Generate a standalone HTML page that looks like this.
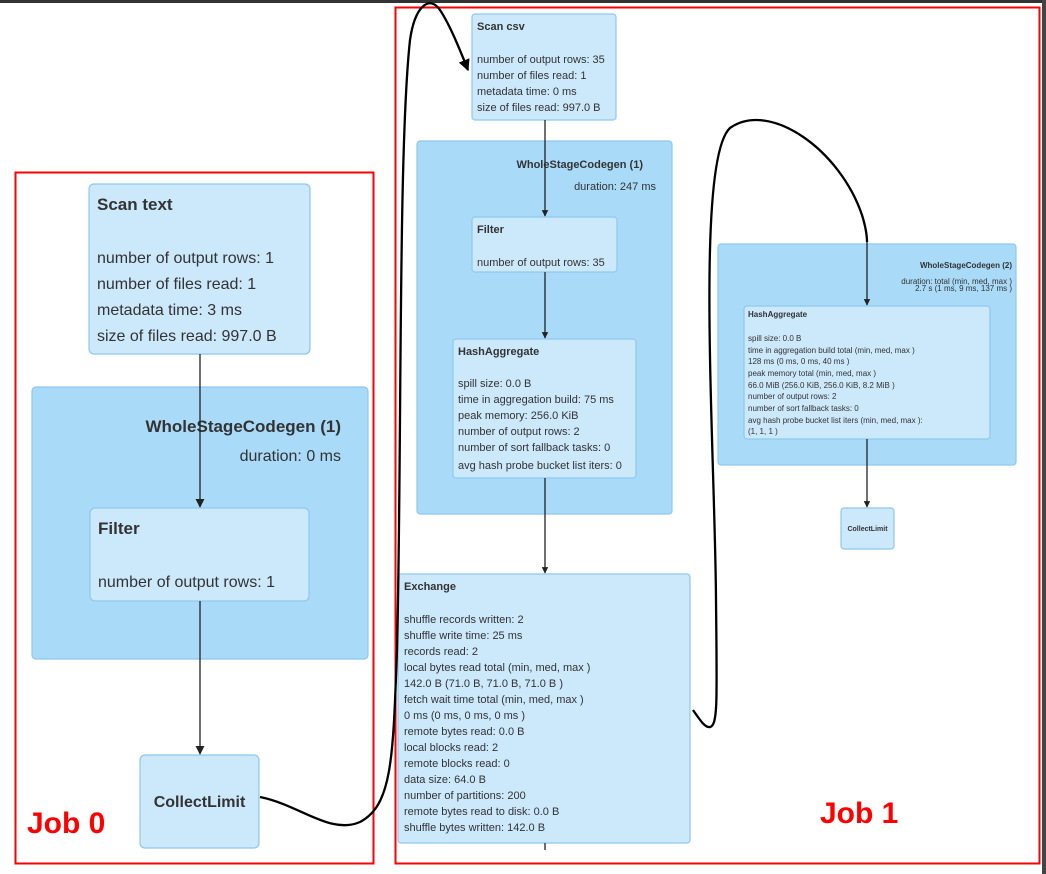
<!DOCTYPE html>
<html><head><meta charset="utf-8"><style>
html,body{margin:0;padding:0;background:#fff;}
svg{display:block;font-family:"Liberation Sans",Arial,sans-serif;}
.n{fill:#cce8fb;stroke:#8ec8ee;stroke-width:1.2;}
.w{fill:#a9dbf9;stroke:#8ec8ee;stroke-width:1.2;}
.t{fill:#333;}
.b{font-weight:bold;}
.e{stroke:#222;stroke-width:1.3;fill:none;}
</style></head><body>
<svg width="1046" height="874" viewBox="0 0 1046 874">
<defs>
<marker id="a" viewBox="0 0 10 10" refX="9" refY="5" markerWidth="7" markerHeight="7" orient="auto"><path d="M0,0L10,5L0,10z" fill="#222"/></marker>
<marker id="as" viewBox="0 0 10 10" refX="9" refY="5" markerWidth="5" markerHeight="5" orient="auto"><path d="M0,0L10,5L0,10z" fill="#222"/></marker>
<marker id="ab" viewBox="0 0 10 10" refX="9" refY="5" markerWidth="5" markerHeight="5" orient="auto"><path d="M0,0L10,5L0,10z" fill="#000"/></marker>
</defs>
<rect x="0" y="0" width="1046" height="3" fill="#333"/>
<rect x="1042" y="0" width="4" height="874" fill="#444"/>

<!-- Job 0 -->
<rect x="15.5" y="172.5" width="358" height="691" fill="none" stroke="#f00" stroke-width="2"/>
<rect class="w" x="32" y="387" width="336" height="272" rx="4"/>
<text class="t b" x="341" y="432" font-size="17" text-anchor="end">WholeStageCodegen (1)</text>
<text class="t" x="341" y="461" font-size="16" text-anchor="end">duration: 0 ms</text>
<rect class="n" x="89" y="184" width="221" height="170" rx="5"/>
<g class="t" font-size="16">
<text class="b" x="97" y="210" font-size="17">Scan text</text>
<text x="97" y="263">number of output rows: 1</text>
<text x="97" y="289">number of files read: 1</text>
<text x="97" y="315">metadata time: 3 ms</text>
<text x="97" y="341">size of files read: 997.0 B</text>
</g>
<rect class="n" x="90" y="508" width="219" height="93" rx="5"/>
<text class="t b" x="98" y="534" font-size="17">Filter</text>
<text class="t" x="98" y="587" font-size="16">number of output rows: 1</text>
<rect class="n" x="140" y="755" width="119" height="93" rx="5"/>
<text class="t b" x="199.5" y="807" font-size="16" text-anchor="middle">CollectLimit</text>
<line class="e" x1="200" y1="354" x2="200" y2="507" stroke-width="2" marker-end="url(#a)"/>
<line class="e" x1="200" y1="601" x2="200" y2="754" stroke-width="2" marker-end="url(#a)"/>
<text x="27" y="833" font-size="30" font-weight="bold" fill="#f00">Job 0</text>

<!-- Job 1 -->
<rect x="395.5" y="7.5" width="644" height="856" fill="none" stroke="#f00" stroke-width="2"/>
<rect class="n" x="472" y="14" width="144" height="106" rx="3"/>
<g class="t" font-size="11">
<text class="b" x="477" y="30">Scan csv</text>
<text x="477" y="63">number of output rows: 35</text>
<text x="477" y="79">number of files read: 1</text>
<text x="477" y="95">metadata time: 0 ms</text>
<text x="477" y="111">size of files read: 997.0 B</text>
</g>
<rect class="w" x="417" y="141" width="255" height="373" rx="3"/>
<text class="t b" x="643" y="168" font-size="11" text-anchor="end">WholeStageCodegen (1)</text>
<text class="t" x="656" y="190" font-size="11" text-anchor="end">duration: 247 ms</text>
<rect class="n" x="472" y="217" width="145" height="55" rx="3"/>
<text class="t b" x="477" y="233" font-size="11">Filter</text>
<text class="t" x="477" y="266" font-size="11">number of output rows: 35</text>
<rect class="n" x="453" y="339" width="183" height="139" rx="3"/>
<g class="t" font-size="11">
<text class="b" x="458" y="355">HashAggregate</text>
<text x="458" y="387">spill size: 0.0 B</text>
<text x="458" y="403">time in aggregation build: 75 ms</text>
<text x="458" y="419">peak memory: 256.0 KiB</text>
<text x="458" y="435">number of output rows: 2</text>
<text x="458" y="451">number of sort fallback tasks: 0</text>
<text x="458" y="469">avg hash probe bucket list iters: 0</text>
</g>
<rect class="n" x="398" y="574" width="292" height="269" rx="3"/>
<g class="t" font-size="11">
<text class="b" x="404" y="590">Exchange</text>
<text x="404" y="623">shuffle records written: 2</text>
<text x="404" y="639">shuffle write time: 25 ms</text>
<text x="404" y="655">records read: 2</text>
<text x="404" y="671">local bytes read total (min, med, max )</text>
<text x="404" y="687">142.0 B (71.0 B, 71.0 B, 71.0 B )</text>
<text x="404" y="703">fetch wait time total (min, med, max )</text>
<text x="404" y="719">0 ms (0 ms, 0 ms, 0 ms )</text>
<text x="404" y="735">remote bytes read: 0.0 B</text>
<text x="404" y="751">local blocks read: 2</text>
<text x="404" y="767">remote blocks read: 0</text>
<text x="404" y="783">data size: 64.0 B</text>
<text x="404" y="799">number of partitions: 200</text>
<text x="404" y="815">remote bytes read to disk: 0.0 B</text>
<text x="404" y="831">shuffle bytes written: 142.0 B</text>
</g>
<line class="e" x1="545" y1="120" x2="545" y2="216" marker-end="url(#as)"/>
<line class="e" x1="545" y1="272" x2="545" y2="338" marker-end="url(#as)"/>
<line class="e" x1="545" y1="478" x2="545" y2="573" marker-end="url(#as)"/>
<line class="e" x1="545" y1="843" x2="545" y2="850"/>

<rect class="w" x="718" y="244" width="298" height="221" rx="3"/>
<text class="t b" x="1012" y="268" font-size="8" text-anchor="end">WholeStageCodegen (2)</text>
<text class="t" x="1012" y="284" font-size="8" text-anchor="end">duration: total (min, med, max )</text>
<text class="t" x="1012" y="291" font-size="8" text-anchor="end">2.7 s (1 ms, 9 ms, 137 ms )</text>
<rect class="n" x="744" y="306" width="246" height="133" rx="3"/>
<g class="t" font-size="8">
<text class="b" x="748" y="317">HashAggregate</text>
<text x="748" y="341">spill size: 0.0 B</text>
<text x="748" y="353">time in aggregation build total (min, med, max )</text>
<text x="748" y="364">128 ms (0 ms, 0 ms, 40 ms )</text>
<text x="748" y="376">peak memory total (min, med, max )</text>
<text x="748" y="388">66.0 MiB (256.0 KiB, 256.0 KiB, 8.2 MiB )</text>
<text x="748" y="399">number of output rows: 2</text>
<text x="748" y="411">number of sort fallback tasks: 0</text>
<text x="748" y="423">avg hash probe bucket list iters (min, med, max ):</text>
<text x="748" y="434">(1, 1, 1 )</text>
</g>
<rect class="n" x="841" y="508" width="53" height="41" rx="3"/>
<text class="t b" x="867.5" y="531" font-size="7" text-anchor="middle">CollectLimit</text>
<line class="e" x1="867" y1="240" x2="867" y2="305" marker-end="url(#as)"/>
<line class="e" x1="867" y1="439" x2="867" y2="507" marker-end="url(#as)"/>
<text x="820" y="823" font-size="30" font-weight="bold" fill="#f00">Job 1</text>

<!-- hand-drawn curves -->
<path d="M260,797 C300,805 330,835 360,822 C392,805 393,760 397,650 C402,450 398,150 410,40 C415,5 430,-5 440,10 C450,25 460,50 468,70" fill="none" stroke="#000" stroke-width="2.3" marker-end="url(#ab)"/>
<path d="M693,710 C700,720 705,728 710,727 C718,725 717,700 716,600 C715,450 695,160 730,128 C770,100 840,150 862,215 C866,228 867,235 867,242" fill="none" stroke="#000" stroke-width="2.3"/>
</svg>
</body></html>
